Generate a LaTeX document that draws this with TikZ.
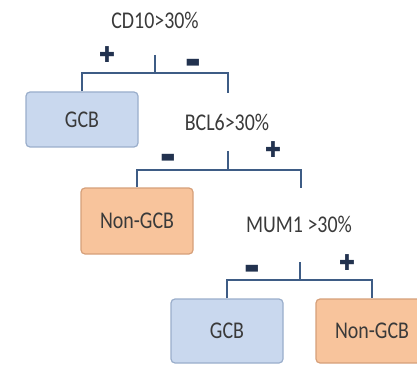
\documentclass[tikz,border=0pt]{standalone}
\usepackage{fontspec}
\setmainfont{Carlito}
\newfontfamily\symfont{DejaVu Sans}
\definecolor{linec}{HTML}{3E5C85}
\definecolor{signc}{HTML}{22324F}
\definecolor{txtc}{HTML}{3A3A3A}
\definecolor{bluef}{HTML}{C9D8EE}
\definecolor{blued}{HTML}{9AAECB}
\definecolor{orangef}{HTML}{F8C49C}
\definecolor{oranged}{HTML}{D6A07A}
\tikzset{
  conn/.style={draw=linec, line width=2pt},
  bigtxt/.style={text=txtc, font=\fontsize{24}{26}\selectfont},
  cond/.style={bigtxt, inner sep=0pt, xscale=0.83},
  boxbase/.style={rounded corners=4pt, line width=1.2pt, minimum width=112pt},
  gcbbox/.style={boxbase, draw=blued, fill=bluef},
  ngcbbox/.style={boxbase, draw=oranged, fill=orangef},
  boxtxt/.style={bigtxt, inner sep=0pt, xscale=0.83},
  signbase/.style={text=signc, inner sep=0pt, yscale=1.15},
  plussign/.style={signbase, font=\symfont\fontsize{19}{19}\selectfont},
  minussign/.style={signbase, font=\symfont\fontsize{16}{16}\selectfont},
}
\begin{document}
\begin{tikzpicture}[x=1pt,y=-1pt]
\useasboundingbox (0,0) rectangle (417,366);
% conditions
\node[cond] (t1) at (155,20) {CD10>30\%};
\node[cond] (t2) at (227,122) {BCL6>30\%};
\node[cond] (t3) at (299,224) {MUM1 >30\%};
% boxes
\node[gcbbox, minimum height=55pt] (g1) at (82,119.5) {};
\node[ngcbbox, minimum height=66pt] (n1) at (137,221) {};
\node[gcbbox, minimum height=64pt] (g2) at (227,331) {};
\node[ngcbbox, minimum height=64pt] (n2) at (372,331) {};
\node[boxtxt] (g1t) at (g1.center) {GCB};
\node[boxtxt] (n1t) at (n1.center) {Non-GCB};
\node[boxtxt] (g2t) at (g2.center) {GCB};
\node[boxtxt] (n2t) at (n2.center) {Non-GCB};
% junction coordinates
\coordinate (c1a) at (155,55);
\coordinate (c1b) at (155,73);
\coordinate (d1) at (228,93);
\coordinate (c2a) at (228,151);
\coordinate (c2b) at (228,170);
\coordinate (d2) at (301,188);
\coordinate (c3a) at (300,262);
\coordinate (c3b) at (300,280);
% connectors
\draw[conn] (c1a) -- (c1b);
\draw[conn] (g1.north) |- (c1b) -| (d1);
\draw[conn] (c2a) -- (c2b);
\draw[conn] (n1.north) |- (c2b) -| (d2);
\draw[conn] (c3a) -- (c3b);
\draw[conn] (g2.north) |- (c3b) -| (n2.north);
% signs
\node[plussign] (p1) at (107,55) {✚};
\node[minussign] (m1) at (193,63) {▬};
\node[minussign] (m2) at (168,158) {▬};
\node[plussign] (p2) at (273,150) {✚};
\node[minussign] (m3) at (252,269) {▬};
\node[plussign] (p3) at (347,263) {✚};
\end{tikzpicture}
\end{document}
